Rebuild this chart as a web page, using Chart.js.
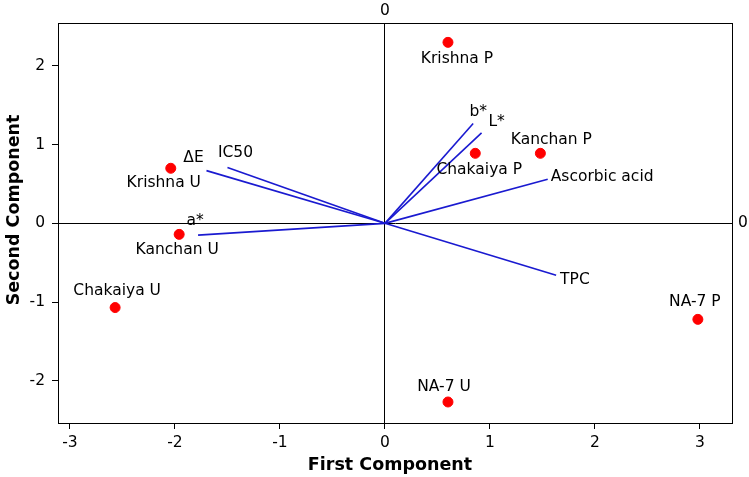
<!DOCTYPE html>
<html>
<head>
<meta charset="utf-8">
<script src="https://cdn.jsdelivr.net/npm/chart.js@4.4.1/dist/chart.umd.min.js"></script>
<style>
  html, body { margin: 0; padding: 0; background: #fff; }
  #wrap { width: 749px; height: 477px; }
</style>
</head>
<body>
<div id="wrap"><canvas id="biplot"></canvas></div>
<script>
// PCA scores (samples)
const sampleNames = ['Krishna P', 'Kanchan P', 'Chakaiya P', 'Krishna U', 'Kanchan U', 'Chakaiya U', 'NA-7 P', 'NA-7 U'];
const scoreX = [0.60, 1.48, 0.86, -2.04, -1.96, -2.57, 2.98, 0.60];
const scoreY = [2.30, 0.89, 0.89, 0.70, -0.14, -1.07, -1.22, -2.27];

// PCA loadings (variables), drawn as vectors from the origin
const variableNames = ['ΔE', 'IC50', 'a*', 'b*', 'L*', 'Ascorbic acid', 'TPC'];
const loadX = [-1.70, -1.50, -1.78, 0.84, 0.92, 1.55, 1.63];
const loadY = [0.67, 0.71, -0.15, 1.27, 1.15, 0.56, -0.66];

const xTicks = [-3, -2, -1, 0, 1, 2, 3];
const yTicks = [-2, -1, 0, 1, 2];

// label placement in pixels relative to the mark [dx, dy, align]
const sampleLabelPos = [[9, 17, 'center'], [11, -13, 'center'], [4, 17, 'center'], [-7, 15, 'center'],
  [-2, 16, 'center'], [2, -17, 'center'], [-3, -17, 'center'], [-4, -15, 'center']];
const variableLabelPos = [[-13, -13, 'center'], [8, -15, 'center'], [-3, -14, 'center'], [5, -11, 'center'],
  [15, -11, 'center'], [3, -2, 'left'], [4, 5, 'left']];

const FONT = '"DejaVu Sans", sans-serif';

const datasets = [{
  label: 'Scores',
  data: scoreX.map((x, i) => ({ x: x, y: scoreY[i] })),
  backgroundColor: '#ff0000',
  borderColor: '#ff0000',
  pointRadius: 5,
  pointHoverRadius: 5,
  showLine: false
}];

variableNames.forEach((name, i) => {
  datasets.push({
    label: name,
    data: [{ x: 0, y: 0 }, { x: loadX[i], y: loadY[i] }],
    borderColor: '#1a1ad0',
    borderWidth: 1.6,
    pointRadius: 0,
    showLine: true,
    fill: false
  });
});

const biplotDecor = {
  id: 'biplotDecor',
  afterDraw(chart) {
    const ctx = chart.ctx;
    const area = chart.chartArea;
    const xs = chart.scales.x, ys = chart.scales.y;
    ctx.save();

    // frame
    ctx.strokeStyle = '#000';
    ctx.lineWidth = 1;
    ctx.strokeRect(Math.round(area.left) + 0.5, Math.round(area.top) + 0.5,
      Math.round(area.right - area.left), Math.round(area.bottom - area.top));

    ctx.fillStyle = '#000';
    ctx.font = '15.5px ' + FONT;
    ctx.textBaseline = 'middle';

    // reference line labels
    ctx.textAlign = 'center';
    ctx.fillText('0', xs.getPixelForValue(0), area.top - 12);
    ctx.textAlign = 'left';
    ctx.fillText('0', area.right + 6, ys.getPixelForValue(0));

    // sample labels
    sampleNames.forEach((name, i) => {
      const p = sampleLabelPos[i];
      ctx.textAlign = p[2];
      ctx.fillText(name, xs.getPixelForValue(scoreX[i]) + p[0], ys.getPixelForValue(scoreY[i]) + p[1]);
    });

    // variable labels
    variableNames.forEach((name, i) => {
      const p = variableLabelPos[i];
      ctx.textAlign = p[2];
      ctx.fillText(name, xs.getPixelForValue(loadX[i]) + p[0], ys.getPixelForValue(loadY[i]) + p[1]);
    });

    // axis titles
    ctx.font = 'bold 17.5px ' + FONT;
    ctx.textAlign = 'center';
    ctx.fillText('First Component', 390, 465);
    ctx.translate(14, 210);
    ctx.rotate(-Math.PI / 2);
    ctx.fillText('Second Component', 0, 0);
    ctx.restore();
  }
};

function zeroLine(c) {
  return c.tick && c.tick.value === 0 ? '#000' : 'rgba(0,0,0,0)';
}

new Chart(document.getElementById('biplot'), {
  type: 'scatter',
  data: { datasets: datasets },
  options: {
    responsive: true,
    maintainAspectRatio: false,
    animation: false,
    layout: { padding: { top: 23, right: 17, bottom: 0, left: 0 } },
    plugins: {
      legend: { display: false },
      tooltip: { enabled: false }
    },
    scales: {
      x: {
        type: 'linear',
        min: -3.114,
        max: 3.305,
        afterBuildTicks: s => { s.ticks = xTicks.map(v => ({ value: v })); },
        afterFit: s => { s.height = 54; },
        border: { display: true, color: '#000', width: 1 },
        grid: { color: zeroLine, lineWidth: 1, drawTicks: true, tickLength: 6, tickColor: '#000' },
        ticks: { color: '#000', padding: 5, font: { family: FONT, size: 15.5 }, maxRotation: 0 }
      },
      y: {
        type: 'linear',
        min: -2.537,
        max: 2.546,
        afterBuildTicks: s => { s.ticks = yTicks.map(v => ({ value: v })); },
        afterFit: s => { s.width = 58; },
        border: { display: true, color: '#000', width: 1 },
        grid: { color: zeroLine, lineWidth: 1, drawTicks: true, tickLength: 6, tickColor: '#000' },
        ticks: { color: '#000', padding: 7, font: { family: FONT, size: 15.5 } }
      }
    }
  },
  plugins: [biplotDecor]
});
</script>
</body>
</html>
